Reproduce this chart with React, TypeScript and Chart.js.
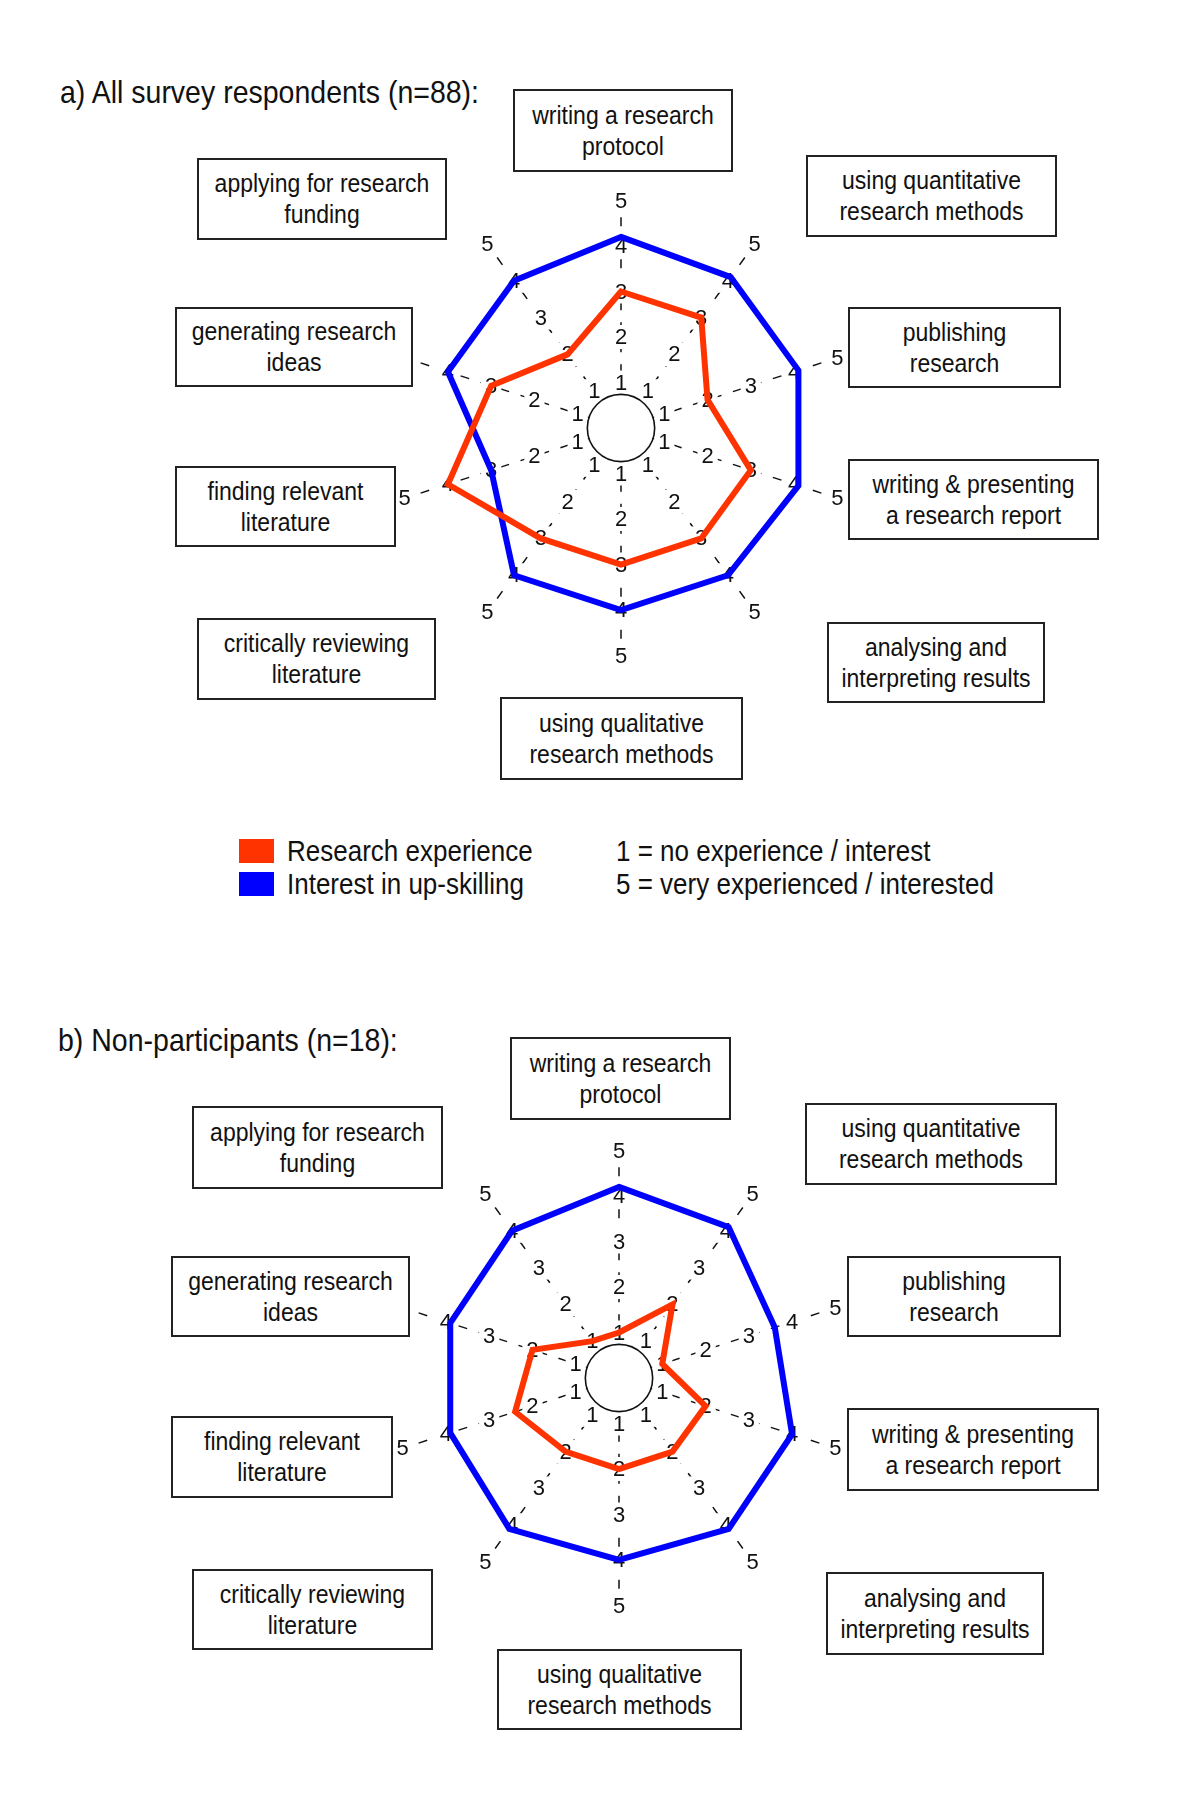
import React, { useEffect, useRef } from 'react';
import { Chart, registerables } from 'chart.js';

Chart.register(...registerables);

// ---------- data ----------
const categoryLines: string[][] = [
  ['writing a research', 'protocol'],
  ['using quantitative', 'research methods'],
  ['publishing', 'research'],
  ['writing & presenting', 'a research report'],
  ['analysing and', 'interpreting results'],
  ['using qualitative', 'research methods'],
  ['critically reviewing', 'literature'],
  ['finding relevant', 'literature'],
  ['generating research', 'ideas'],
  ['applying for research', 'funding'],
];
const tickValues = [1, 2, 3, 4, 5];

const experienceAll = [3, 3, 2, 3, 3, 3, 3, 4, 3, 2];
const interestAll = [4.2, 4.1, 4.1, 4.1, 4.0, 4.0, 4.0, 3.0, 4.0, 4.0];

const experienceNon = [1, 2, 1, 2, 2, 2, 2, 2.4, 2, 1];
const interestNon = [4.2, 4.1, 3.6, 4.0, 4.1, 4.0, 4.1, 3.9, 3.9, 4.0];

const legendLabels = ['Research experience', 'Interest in up-skilling'];
const scaleNotes = ['1 = no experience / interest', '5 = very experienced / interested'];
const panelTitles = ['a) All survey respondents (n=88):', 'b) Non-participants (n=18):'];

// ---------- style / layout ----------
const RED = '#FF3300';
const BLUE = '#0000FF';
const FONT = '"Liberation Sans", Arial, Helvetica, sans-serif';
const HALF = 273; // canvas half size -> drawing radius
const SCALE_MAX = 6;
const HOLE_VALUE = 0.74;
const AXIS_END = 5;

// box layout [left, top, width, height] per category, per panel
const boxLayoutA = [
  [513, 89, 220, 83],
  [806, 155, 251, 82],
  [848, 307, 213, 81],
  [848, 459, 251, 81],
  [827, 622, 218, 81],
  [500, 697, 243, 83],
  [197, 618, 239, 82],
  [175, 466, 221, 81],
  [175, 307, 238, 80],
  [197, 158, 250, 82],
];
const boxLayoutB = [
  [510, 1037, 221, 83],
  [805, 1103, 252, 82],
  [847, 1256, 214, 81],
  [847, 1408, 252, 83],
  [826, 1572, 218, 83],
  [497, 1649, 245, 81],
  [192, 1569, 241, 81],
  [171, 1416, 222, 82],
  [171, 1256, 239, 81],
  [192, 1106, 251, 83],
];

const decorPlugin = {
  id: 'radarDecor',
  beforeDatasetsDraw(chart: any) {
    const scale = chart.scales.r;
    const ctx = chart.ctx as CanvasRenderingContext2D;
    const n = chart.data.labels.length;
    ctx.save();
    // dashed spokes
    ctx.strokeStyle = '#111';
    ctx.lineWidth = 1.5;
    ctx.setLineDash([9, 12]);
    for (let i = 0; i < n; i++) {
      const a = scale.getPointPositionForValue(i, HOLE_VALUE);
      const b = scale.getPointPositionForValue(i, AXIS_END);
      ctx.beginPath();
      ctx.moveTo(a.x, a.y);
      ctx.lineTo(b.x, b.y);
      ctx.stroke();
    }
    ctx.setLineDash([]);
    // label backgrounds
    ctx.font = '22px ' + FONT;
    ctx.textAlign = 'center';
    ctx.textBaseline = 'middle';
    for (let i = 0; i < n; i++) {
      for (const v of tickValues) {
        const p = scale.getPointPositionForValue(i, v);
        const w = ctx.measureText(String(v)).width;
        ctx.fillStyle = '#fff';
        ctx.fillRect(p.x - w / 2 - 4, p.y - 12, w + 8, 24);
      }
    }
    // hole
    ctx.beginPath();
    ctx.arc(scale.xCenter, scale.yCenter, scale.getDistanceFromCenterForValue(HOLE_VALUE), 0, Math.PI * 2);
    ctx.fillStyle = '#fff';
    ctx.fill();
    ctx.lineWidth = 1.6;
    ctx.strokeStyle = '#111';
    ctx.stroke();
    // tick text
    ctx.fillStyle = '#111';
    for (let i = 0; i < n; i++) {
      for (const v of tickValues) {
        const p = scale.getPointPositionForValue(i, v);
        ctx.fillText(String(v), p.x, p.y + 1);
      }
    }
    ctx.restore();
  },
};

function RadarPanel({ experience, interest, cx, cy }: { experience: number[]; interest: number[]; cx: number; cy: number }) {
  const ref = useRef<HTMLCanvasElement | null>(null);
  useEffect(() => {
    if (!ref.current) return;
    const chart = new Chart(ref.current, {
      type: 'radar',
      data: {
        labels: categoryLines,
        datasets: [
          {
            label: legendLabels[0],
            data: experience,
            borderColor: RED,
            backgroundColor: RED,
            borderWidth: 6,
            pointRadius: 0,
            fill: false,
            tension: 0,
            borderJoinStyle: 'miter',
          },
          {
            label: legendLabels[1],
            data: interest,
            borderColor: BLUE,
            backgroundColor: BLUE,
            borderWidth: 6,
            pointRadius: 0,
            fill: false,
            tension: 0,
            borderJoinStyle: 'miter',
          },
        ],
      } as any,
      options: {
        responsive: false,
        animation: false,
        events: [],
        layout: { padding: 0 },
        plugins: { legend: { display: false }, tooltip: { enabled: false }, title: { display: false } },
        scales: {
          r: {
            min: 0,
            max: SCALE_MAX,
            startAngle: 0,
            ticks: { display: false },
            grid: { display: false },
            angleLines: { display: false },
            pointLabels: { display: false },
          },
        },
      } as any,
      plugins: [decorPlugin],
    });
    return () => chart.destroy();
  }, [experience, interest]);
  return (
    <canvas
      ref={ref}
      width={HALF * 2}
      height={HALF * 2}
      style={{ position: 'absolute', left: cx - HALF, top: cy - HALF, width: HALF * 2, height: HALF * 2 }}
    />
  );
}

function LabelBox({ lines, box }: { lines: string[]; box: number[] }) {
  return (
    <div
      style={{
        position: 'absolute',
        left: box[0],
        top: box[1],
        width: box[2],
        height: box[3],
        boxSizing: 'border-box',
        border: '2px solid #222',
        background: '#fff',
        display: 'flex',
        flexDirection: 'column',
        justifyContent: 'center',
        alignItems: 'center',
        fontSize: 23,
        lineHeight: '28px',
        whiteSpace: 'nowrap',
      }}
    >
      <div style={{ transform: 'scaleY(1.1)', textAlign: 'center' }}>
        {lines.map((l, i) => (
          <div key={i}>{l}</div>
        ))}
      </div>
    </div>
  );
}

export default function App() {
  useEffect(() => {
    document.body.style.margin = '0';
  }, []);
  const textStyle = (left: number, top: number, size: number): React.CSSProperties => ({
    position: 'absolute',
    left,
    top,
    fontSize: size,
    lineHeight: size + 6 + 'px',
    whiteSpace: 'nowrap',
    transform: 'scaleY(1.1)',
    transformOrigin: 'left center',
  });
  return (
    <div
      style={{
        position: 'absolute',
        left: 0,
        top: 0,
        width: 1200,
        height: 1796,
        background: '#fff',
        fontFamily: FONT,
        color: '#111',
        overflow: 'hidden',
      }}
    >
      <div style={textStyle(60, 75, 28.5)}>{panelTitles[0]}</div>
      <div style={textStyle(58, 1023, 28.5)}>{panelTitles[1]}</div>

      <RadarPanel experience={experienceAll} interest={interestAll} cx={621} cy={428} />
      <RadarPanel experience={experienceNon} interest={interestNon} cx={619} cy={1378} />

      {categoryLines.map((lines, i) => (
        <LabelBox key={'a' + i} lines={lines} box={boxLayoutA[i]} />
      ))}
      {categoryLines.map((lines, i) => (
        <LabelBox key={'b' + i} lines={lines} box={boxLayoutB[i]} />
      ))}

      {/* legend */}
      <div style={{ position: 'absolute', left: 239, top: 839, width: 35, height: 24, background: RED }} />
      <div style={{ position: 'absolute', left: 239, top: 872, width: 35, height: 24, background: BLUE }} />
      <div style={textStyle(287, 835, 26)}>{legendLabels[0]}</div>
      <div style={textStyle(287, 868, 26)}>{legendLabels[1]}</div>
      <div style={textStyle(616, 835, 26)}>{scaleNotes[0]}</div>
      <div style={textStyle(616, 868, 26)}>{scaleNotes[1]}</div>
    </div>
  );
}
